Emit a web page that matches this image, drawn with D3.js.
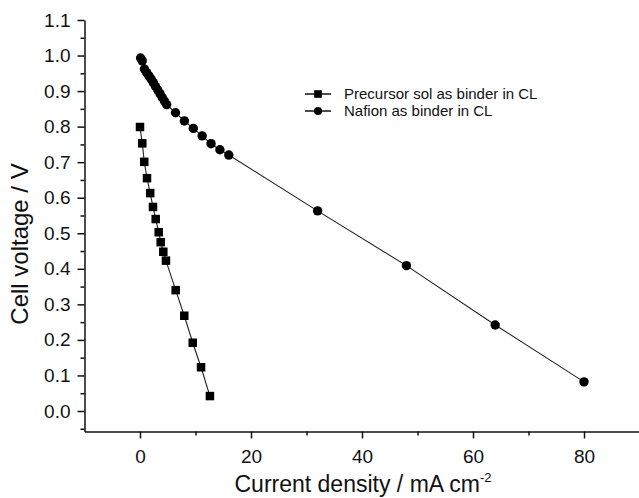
<!DOCTYPE html>
<html>
<head>
<meta charset="utf-8">
<script src="https://cdn.jsdelivr.net/npm/d3@7/dist/d3.min.js"></script>
<style>
  html, body { margin: 0; padding: 0; background: #fff; }
  svg { display: block; }
  text { font-family: "Liberation Sans", Arial, Helvetica, sans-serif; fill: #111; }
</style>
</head>
<body>
<svg id="chart" width="639" height="498"></svg>
<script>
// Polarization data: current density (mA cm^-2) vs cell voltage (V)
const precursorCurrent = [0, 0.41, 0.77, 1.26, 1.84, 2.34, 2.83, 3.37, 3.73, 4.2, 4.68, 6.43, 7.98, 9.5, 11.0, 12.6];
const precursorVoltage = [0.799, 0.753, 0.701, 0.655, 0.613, 0.574, 0.54, 0.503, 0.475, 0.448, 0.423, 0.34, 0.268, 0.192, 0.123, 0.042];

const nafionCurrent = [0.1, 0.4, 0.8, 1.2, 1.6, 2.0, 2.4, 2.8, 3.2, 3.6, 4.0, 4.4, 4.8, 6.4, 8.0, 9.6, 11.2, 12.8, 14.4, 16.0, 32, 48, 64, 80];
const nafionVoltage = [0.993, 0.985, 0.962, 0.952, 0.943, 0.934, 0.924, 0.913, 0.903, 0.893, 0.882, 0.872, 0.862, 0.839, 0.816, 0.795, 0.774, 0.752, 0.735, 0.72, 0.563, 0.409, 0.242, 0.082];

const seriesNames = ["Precursor sol as binder in CL", "Nafion as binder in CL"];

const xTicksMajor = [0, 20, 40, 60, 80];
const xTicksMinor = [10, 30, 50, 70];
const yTicksMajor = [0.0, 0.1, 0.2, 0.3, 0.4, 0.5, 0.6, 0.7, 0.8, 0.9, 1.0, 1.1];
const yTicksMinor = [-0.05, 0.05, 0.15, 0.25, 0.35, 0.45, 0.55, 0.65, 0.75, 0.85, 0.95, 1.05];

const svg = d3.select("#chart");

const x = d3.scaleLinear().domain([-10, 90]).range([84.5, 639.5]);
const y = d3.scaleLinear().domain([-0.0577, 1.1]).range([431.5, 20]);

// Minor ticks
const axisStroke = 1.5;
svg.append("g")
  .attr("transform", `translate(0,${y.range()[0]})`)
  .call(d3.axisBottom(x).tickValues(xTicksMinor).tickSize(4).tickFormat("").tickSizeOuter(0))
  .call(g => g.select(".domain").remove())
  .call(g => g.selectAll("line").attr("stroke", "#111").attr("stroke-width", axisStroke));

svg.append("g")
  .attr("transform", `translate(${x.range()[0]},0)`)
  .call(d3.axisLeft(y).tickValues(yTicksMinor).tickSize(4).tickFormat("").tickSizeOuter(0))
  .call(g => g.select(".domain").remove())
  .call(g => g.selectAll("line").attr("stroke", "#111").attr("stroke-width", axisStroke));

// Major axes
const xAxis = svg.append("g")
  .attr("transform", `translate(0,${y.range()[0]})`)
  .call(d3.axisBottom(x).tickValues(xTicksMajor).tickSize(7).tickPadding(11).tickSizeOuter(0).tickFormat(d3.format("d")));
xAxis.select(".domain").attr("stroke", "#111").attr("stroke-width", axisStroke);
xAxis.selectAll("line").attr("stroke", "#111").attr("stroke-width", axisStroke);
xAxis.selectAll("text").attr("font-size", 19).attr("fill", "#111")
  .style("font-family", '"Liberation Sans", Arial, sans-serif');

const yAxis = svg.append("g")
  .attr("transform", `translate(${x.range()[0]},0)`)
  .call(d3.axisLeft(y).tickValues(yTicksMajor).tickSize(7).tickPadding(7).tickSizeOuter(0).tickFormat(d3.format(".1f")));
yAxis.select(".domain").attr("stroke", "#111").attr("stroke-width", axisStroke);
yAxis.selectAll("line").attr("stroke", "#111").attr("stroke-width", axisStroke);
yAxis.selectAll("text").attr("font-size", 19).attr("fill", "#111")
  .style("font-family", '"Liberation Sans", Arial, sans-serif');

// Axis titles
const xTitle = svg.append("text")
  .attr("x", (x(-10) + x(90)) / 2 + 1)
  .attr("y", 492)
  .attr("text-anchor", "middle")
  .attr("font-size", 23);
xTitle.append("tspan").text("Current density / mA cm");
xTitle.append("tspan").attr("dy", -10).attr("font-size", 13).text("-2");

svg.append("text")
  .attr("transform", "translate(28,244) rotate(-90)")
  .attr("text-anchor", "middle")
  .attr("font-size", 24)
  .text("Cell voltage / V");

// Series
const precursor = precursorCurrent.map((c, i) => ({ c, v: precursorVoltage[i] }));
const nafion = nafionCurrent.map((c, i) => ({ c, v: nafionVoltage[i] }));

const line = d3.line().x(d => x(d.c)).y(d => y(d.v));

svg.append("path").datum(nafion)
  .attr("d", line).attr("fill", "none").attr("stroke", "#222").attr("stroke-width", 1.1);
svg.append("path").datum(precursor)
  .attr("d", line).attr("fill", "none").attr("stroke", "#222").attr("stroke-width", 1.1);

const sq = 8.5;
svg.append("g").selectAll("rect").data(precursor).join("rect")
  .attr("x", d => x(d.c) - sq / 2)
  .attr("y", d => y(d.v) - sq / 2)
  .attr("width", sq).attr("height", sq)
  .attr("fill", "#000");

svg.append("g").selectAll("circle").data(nafion).join("circle")
  .attr("cx", d => x(d.c))
  .attr("cy", d => y(d.v))
  .attr("r", 4.7)
  .attr("fill", "#000");

// Legend
const legend = svg.append("g");
const legendRows = [
  { name: seriesNames[0], yPos: 94, shape: "square" },
  { name: seriesNames[1], yPos: 111, shape: "circle" }
];
legendRows.forEach(r => {
  legend.append("line")
    .attr("x1", 305).attr("x2", 331)
    .attr("y1", r.yPos).attr("y2", r.yPos)
    .attr("stroke", "#111").attr("stroke-width", 1.5);
  if (r.shape === "square") {
    legend.append("rect").attr("x", 318 - 3.8).attr("y", r.yPos - 3.8)
      .attr("width", 7.6).attr("height", 7.6).attr("fill", "#000");
  } else {
    legend.append("circle").attr("cx", 318).attr("cy", r.yPos).attr("r", 4).attr("fill", "#000");
  }
  legend.append("text")
    .attr("x", 344).attr("y", r.yPos)
    .attr("dy", "0.36em")
    .attr("font-size", 15)
    .text(r.name);
});
</script>
</body>
</html>
